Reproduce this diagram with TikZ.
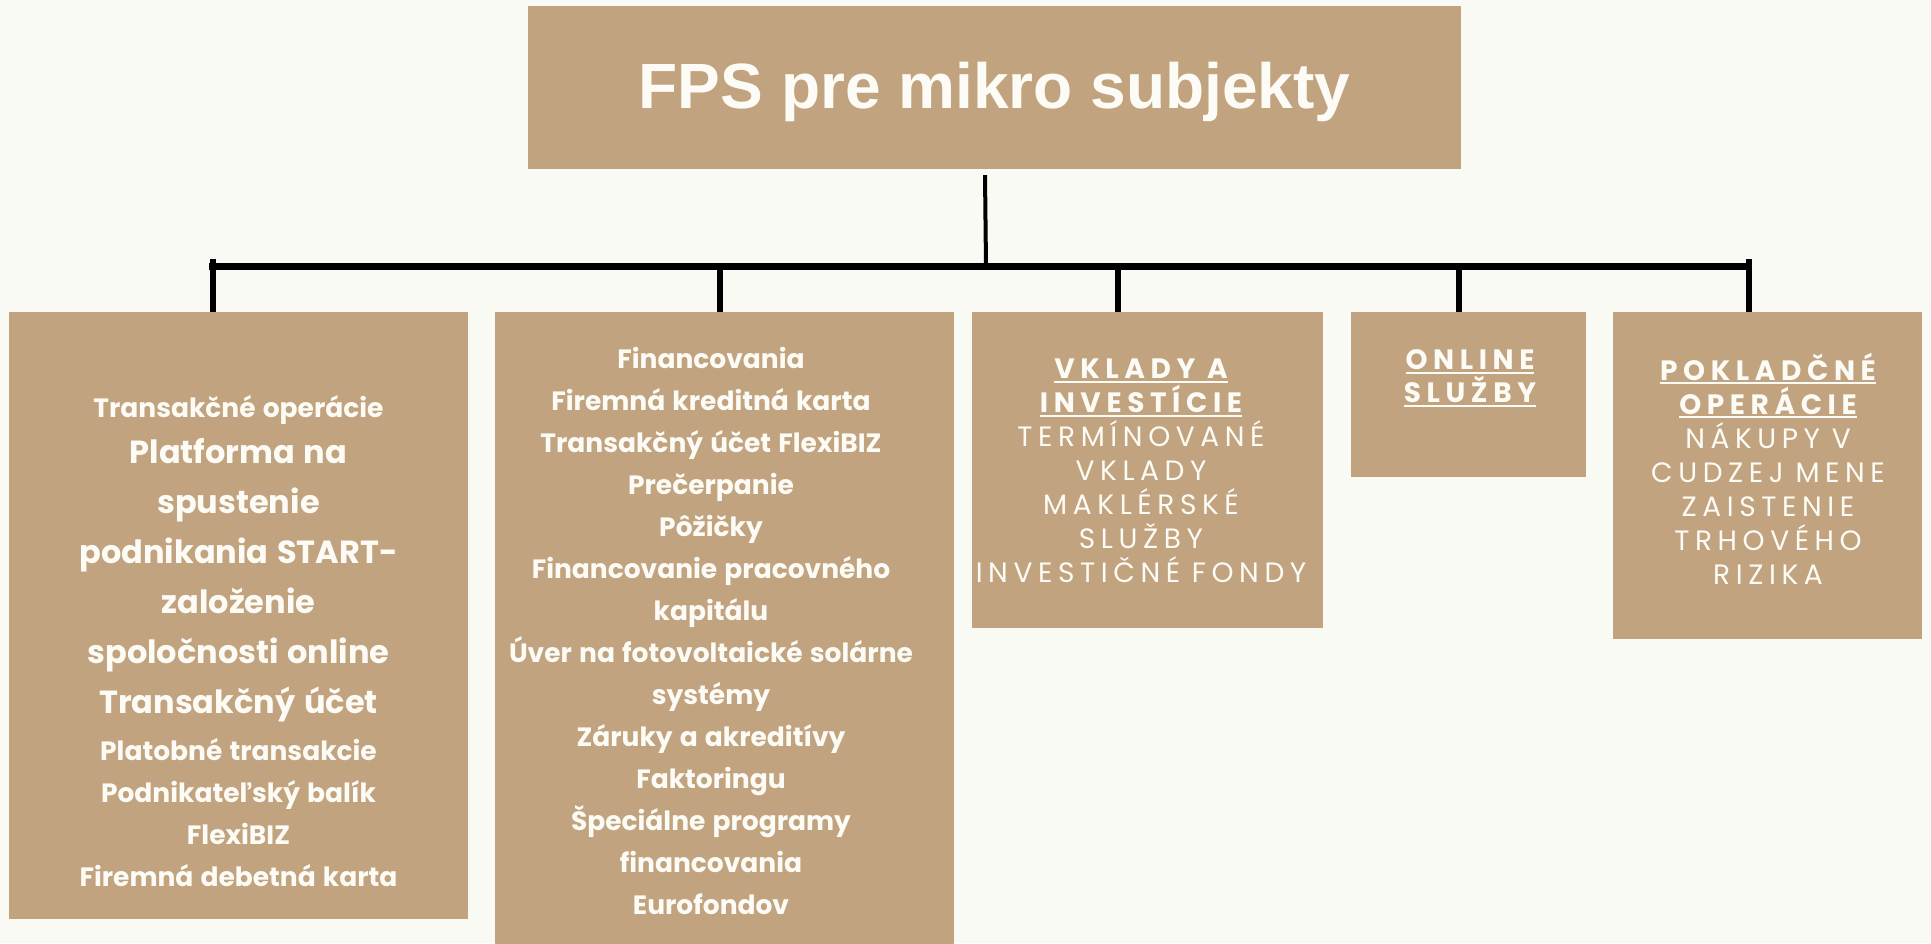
\documentclass[tikz,border=0pt]{standalone}
\usepackage{fontspec}
\setmainfont{Poppins}
\newfontfamily\titlefont{Liberation Sans}
\newfontfamily\spcfont{Poppins}[LetterSpace=20]
\newcommand{\ws}{\hspace{0.42em}}
\newcommand{\sz}[2]{\fontsize{#1}{#2}\selectfont\spaceskip=0.27em\relax}
\newsavebox{\ulbox}
\newcommand{\myuline}[1]{\leavevmode\sbox{\ulbox}{#1}\rlap{\rule[-4pt]{\wd\ulbox}{2.2pt}}\usebox{\ulbox}}
\definecolor{bgc}{HTML}{FAFAF5}
\definecolor{boxtan}{HTML}{C1A47F}
\definecolor{txtc}{HTML}{FDFBF5}
\tikzset{
  boxnode/.style={fill=boxtan, draw=none, inner sep=0pt, anchor=north west},
  txtnode/.style={text=txtc, inner sep=0pt, align=center},
  stem/.style={line width=4pt, draw=black},
  barline/.style={line width=7pt, draw=black},
  dropline/.style={line width=6pt, draw=black},
}
\begin{document}
\begin{tikzpicture}[x=1pt,y=-1pt]
\fill[bgc] (0,0) rectangle (1931,943);
\useasboundingbox (0,0) rectangle (1931,943);
% title
\node[fill=boxtan, inner sep=0pt, minimum width=933pt, minimum height=163pt] (title) at (994.5,87.5) {};
\node[text=txtc, inner sep=0pt, font=\titlefont\bfseries\fontsize{64}{70}\selectfont] (titletext) at ([yshift=-4pt]title.center) {FPS pre mikro subjekty};
% boxes
\node[boxnode, minimum width=459pt, minimum height=607pt] (b1) at (9,312) {};
\node[boxnode, minimum width=459pt, minimum height=640pt] (b2) at (495,312) {};
\node[boxnode, minimum width=351pt, minimum height=316pt] (b3) at (972,312) {};
\node[boxnode, minimum width=235pt, minimum height=165pt] (b4) at (1351,312) {};
\node[boxnode, minimum width=309pt, minimum height=327pt] (b5) at (1613,312) {};
% texts
\node[txtnode, text width=455pt, font=\bfseries] (t1) at (238.5,641) {%
{\sz{26.5}{42}Transakčné operácie\par}
{\sz{32}{46}Platforma na\par}
{\sz{32}{50}spustenie\par podnikania START-\par založenie\par spoločnosti online\par Transakčný účet\par}
{\sz{26.5}{47}Platobné transakcie\par}
{\sz{26.5}{42}Podnikateľský balík\par FlexiBIZ\par Firemná debetná karta\par}};
\node[txtnode, text width=455pt, font=\bfseries] (t2) at (711,631) {%
{\sz{26.5}{42}Financovania\par Firemná kreditná karta\par Transakčný účet FlexiBIZ\par Prečerpanie\par Pôžičky\par Financovanie pracovného\par kapitálu\par Úver na fotovoltaické solárne\par systémy\par Záruky a akreditívy\par Faktoringu\par Špeciálne programy\par financovania\par Eurofondov\par}};
\node[txtnode, text width=348pt] (t3) at (1141,471) {%
{\spcfont\fontsize{28}{34}\selectfont{\bfseries\myuline{VKLADY\ws A}\par\myuline{INVESTÍCIE}\par}
TERMÍNOVANÉ\par VKLADY\par MAKLÉRSKÉ\par SLUŽBY\par INVESTIČNÉ\ws FONDY\par}};
\node[txtnode, text width=232pt] (t4) at (1470,378.5) {%
{\spcfont\bfseries\fontsize{28}{33}\selectfont\myuline{ONLINE}\par\myuline{SLUŽBY}\par}};
\node[txtnode, text width=305pt] (t5) at (1768,468.5) {%
{\spcfont\fontsize{28}{34}\selectfont{\bfseries\myuline{POKLADČNÉ}\par\myuline{OPERÁCIE}\par}
NÁKUPY\ws V\par CUDZEJ\ws MENE\par ZAISTENIE\par TRHOVÉHO\par RIZIKA\par}};
% connectors
\coordinate (hub) at (986,266);
\coordinate (barL) at (209,266);
\coordinate (barR) at (1752,266);
\coordinate (d1) at (213,259);
\coordinate (d2) at (720,266);
\coordinate (d3) at (1118,266);
\coordinate (d4) at (1459,266);
\coordinate (d5) at (1749,259);
\draw[stem] ([xshift=-9.5pt,yshift=-6pt]title.south) -- (hub);
\draw[barline] (barL) -- (barR);
\draw[dropline] (d1) -- (d1 |- b1.north);
\draw[dropline] (d2) -- (d2 |- b2.north);
\draw[dropline] (d3) -- (d3 |- b3.north);
\draw[dropline] (d4) -- (d4 |- b4.north);
\draw[dropline] (d5) -- (d5 |- b5.north);
\end{tikzpicture}
\end{document}
